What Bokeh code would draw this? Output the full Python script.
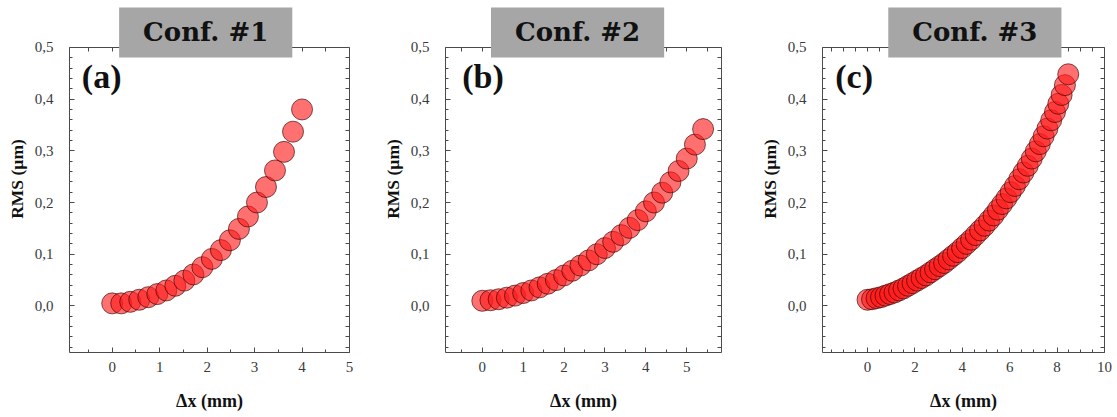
import numpy as np
from bokeh.plotting import figure
from bokeh.layouts import row
from bokeh.models import (Range1d, SingleIntervalTicker, FixedTicker, LinearAxis, Label,
                          CustomJSTickFormatter)
from bokeh.embed import file_html
from bokeh.resources import INLINE

# ---------------- data ----------------
x1 = [0.0, 0.19, 0.38, 0.57, 0.76, 0.95, 1.14, 1.33, 1.52, 1.71, 1.90, 2.10, 2.29, 2.48,
      2.67, 2.86, 3.05, 3.24, 3.43, 3.62, 3.81, 4.00]
y1 = [0.005, 0.005, 0.008, 0.012, 0.017, 0.023, 0.030, 0.039, 0.049, 0.061, 0.075, 0.091,
      0.108, 0.127, 0.149, 0.173, 0.200, 0.230, 0.262, 0.298, 0.337, 0.380]

x2 = [0.0, 0.2, 0.4, 0.6, 0.8, 1.0, 1.2, 1.4, 1.6, 1.8, 2.0, 2.2, 2.4, 2.6, 2.8, 3.0,
      3.2, 3.4, 3.6, 3.8, 4.0, 4.2, 4.4, 4.6, 4.8, 5.0, 5.2, 5.4]
y2 = [0.010, 0.011, 0.013, 0.016, 0.020, 0.025, 0.030, 0.036, 0.043, 0.050, 0.059, 0.068,
      0.078, 0.088, 0.100, 0.112, 0.124, 0.137, 0.151, 0.166, 0.183, 0.200, 0.219, 0.239,
      0.261, 0.285, 0.312, 0.342]

x3 = [0.0, 0.19, 0.38, 0.57, 0.76, 0.95, 1.14, 1.33, 1.52, 1.71, 1.90, 2.09, 2.28, 2.47,
      2.66, 2.85, 3.04, 3.23, 3.42, 3.61, 3.80, 3.99, 4.18, 4.37, 4.56, 4.75, 4.94, 5.13,
      5.32, 5.50, 5.68, 5.86, 6.04, 6.22, 6.40, 6.58, 6.76, 6.93, 7.10, 7.27, 7.43, 7.59,
      7.75, 7.91, 8.05, 8.19, 8.33, 8.47]
y3 = [0.012, 0.013, 0.015, 0.017, 0.020, 0.023, 0.026, 0.030, 0.034, 0.039, 0.044, 0.049,
      0.054, 0.059, 0.065, 0.071, 0.077, 0.083, 0.090, 0.097, 0.104, 0.112, 0.120, 0.128,
      0.137, 0.146, 0.155, 0.165, 0.175, 0.186, 0.197, 0.208, 0.220, 0.232, 0.245, 0.258,
      0.271, 0.285, 0.299, 0.313, 0.328, 0.343, 0.359, 0.375, 0.391, 0.408, 0.427, 0.448]

titles = ["Conf. #1", "Conf. #2", "Conf. #3"]
letters = ["(a)", "(b)", "(c)"]
x_title = "\u0394x (mm)"
y_title = "RMS (\u00b5m)"

SERIF = "'Liberation Serif', 'Times New Roman', serif"
AX_COL = "#4a4a4a"
Y_LO, Y_TOP, Y_HI = -0.09, 0.5, 0.581


def style_axis(ax):
    ax.axis_line_color = AX_COL
    ax.axis_line_width = 1
    ax.major_tick_line_color = AX_COL
    ax.minor_tick_line_color = AX_COL
    ax.major_tick_in = 5
    ax.major_tick_out = 0
    ax.minor_tick_in = 3
    ax.minor_tick_out = 0
    ax.major_label_text_font = SERIF
    ax.major_label_text_font_size = "15px"
    ax.major_label_text_color = "#3a3a3a"
    ax.axis_label_text_font = SERIF
    ax.axis_label_text_font_style = "bold"
    ax.axis_label_text_color = "#111111"


def make_panel(xs, ys, xr, xint, xminor, width, bl, br, title, title_x, letter, letter_x):
    p = figure(width=width, height=417, x_range=Range1d(*xr), y_range=Range1d(Y_LO, Y_HI),
               output_backend="svg", toolbar_location=None,
               min_border_left=bl, min_border_right=br, min_border_top=5, min_border_bottom=65,
               x_axis_type=None, y_axis_type=None)
    p.outline_line_color = None
    p.background_fill_color = "white"
    p.border_fill_color = "white"

    yfmt = CustomJSTickFormatter(code="return tick.toFixed(1).replace('.', ',');")
    xfmt = CustomJSTickFormatter(code="return String(Math.round(tick));")

    # bottom axis (labelled)
    xb = LinearAxis(ticker=SingleIntervalTicker(interval=xint, num_minor_ticks=xminor),
                    formatter=xfmt, axis_label=x_title)
    style_axis(xb)
    xb.axis_label_text_font_size = "18px"
    xb.major_label_standoff = 9
    xb.axis_label_standoff = 16
    p.add_layout(xb, "below")

    # top mirror axis at y = 0.5 (ticks only)
    step_x = xint / xminor
    top_ticks = list(np.round(np.arange(np.ceil(xr[0] / step_x) * step_x, xr[1] + 1e-9, step_x), 4))
    xa = LinearAxis(ticker=FixedTicker(ticks=[], minor_ticks=top_ticks), fixed_location=Y_TOP)
    style_axis(xa)
    xa.minor_tick_in = 4
    p.add_layout(xa, "above")

    # left axis (labelled)
    yl = LinearAxis(ticker=SingleIntervalTicker(interval=0.1, num_minor_ticks=5),
                    formatter=yfmt, axis_label=y_title, bounds=(Y_LO, Y_TOP))
    style_axis(yl)
    yl.axis_label_text_font_size = "17.5px"
    yl.major_label_standoff = 16
    yl.axis_label_standoff = 5
    p.add_layout(yl, "left")

    # right mirror axis (ticks only)
    right_ticks = list(np.round(np.arange(-0.08, Y_TOP + 1e-9, 0.02), 3))
    yr = LinearAxis(ticker=FixedTicker(ticks=[], minor_ticks=right_ticks), bounds=(Y_LO, Y_TOP))
    style_axis(yr)
    yr.minor_tick_in = 4
    p.add_layout(yr, "right")

    p.scatter(xs, ys, size=21, marker="circle", fill_color="#ff1a1a", fill_alpha=0.62,
              line_color="#3a0000", line_alpha=0.65, line_width=1)

    p.add_layout(Label(x=title_x, y=0.529, text=title, text_align="center",
                       text_baseline="middle", text_font="DejaVu Serif",
                       text_font_style="bold", text_font_size="26px", text_color="#111111",
                       background_fill_color="#a6a6a6", background_fill_alpha=1.0,
                       padding=dict(left=24, right=24, top=10, bottom=10)))
    p.add_layout(Label(x=letter_x, y=0.443, text=letter, text_align="left",
                       text_baseline="middle", text_font=SERIF, text_font_style="bold",
                       text_font_size="34px", text_color="#111111"))
    return p


p1 = make_panel(x1, y1, (-0.9, 5.0), 1, 2, 372, 69, 23, titles[0], 1.97, letters[0], -0.64)
p2 = make_panel(x2, y2, (-0.9, 5.85), 1, 2, 373, 73, 24, titles[1], 2.33, letters[1], -0.49)
p3 = make_panel(x3, y3, (-1.9, 10.0), 2, 4, 372, 77, 13, titles[2], 4.53, letters[2], -1.36)

layout = row(p1, p2, p3)
open("out.html", "w").write(file_html(layout, INLINE))
